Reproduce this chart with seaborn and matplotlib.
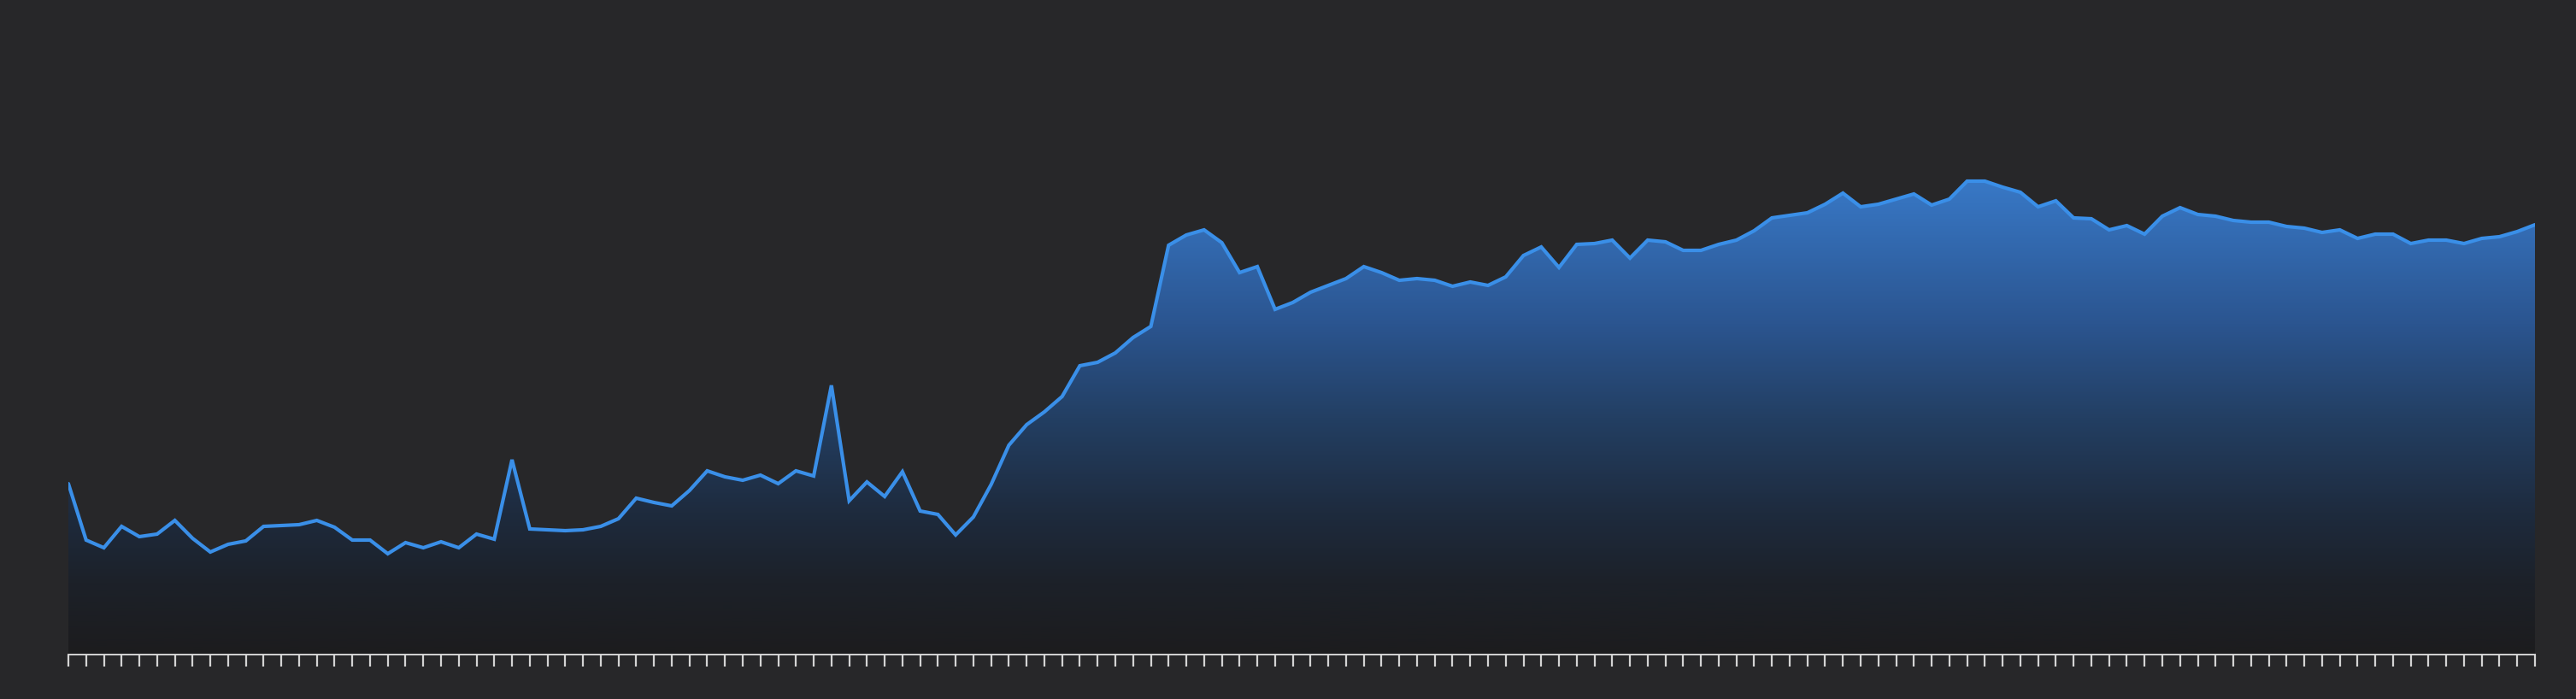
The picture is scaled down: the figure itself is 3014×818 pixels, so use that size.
import numpy as np
import pandas as pd
import seaborn as sns
import matplotlib.pyplot as plt
from matplotlib.colors import LinearSegmentedColormap

# значения ряда (140 точек, одна на каждое деление оси)
values = [
    200, 134, 125, 150, 138, 141, 157, 136, 120, 129,
    133, 150, 151, 152, 157, 149, 134, 134, 118, 131,
    125, 132, 125, 141, 135, 228, 147, 146, 145, 146,
    150, 159, 183, 178, 174, 192, 215, 208, 204, 210,
    200, 215, 209, 315, 180, 202, 185, 214, 168, 164,
    140, 161, 199, 245, 269, 284, 302, 338, 342, 353,
    371, 384, 479, 491, 497, 482, 447, 454, 404, 412,
    424, 432, 440, 454, 447, 438, 440, 438, 431, 436,
    432, 442, 467, 477, 453, 480, 481, 485, 464, 485,
    483, 473, 473, 480, 485, 496, 511, 514, 517, 527,
    540, 524, 527, 533, 539, 526, 533, 554, 554, 547,
    541, 524, 531, 511, 510, 497, 502, 492, 513, 523,
    515, 513, 508, 506, 506, 501, 499, 494, 497, 487,
    492, 492, 481, 485, 485, 481, 487, 489, 495, 503,
]
y_max = 766

bg = "#272729"
line_color = "#3a8fe8"
tick_color = "#d4d4d4"
grad_stops = [
    (0.0, "#1c1c1e"),
    (0.15, "#1c2129"),
    (0.3, "#1e2b3e"),
    (0.5, "#233f63"),
    (0.7, "#2b5590"),
    (1.0, "#3878c6"),
]

df = pd.DataFrame({"x": np.arange(len(values)), "y": values})

sns.set_style("dark")
fig = plt.figure(figsize=(30.14, 8.18), dpi=100, facecolor=bg)
ax = fig.add_axes([80 / 3014, 52 / 818, 2886 / 3014, 766 / 818])
ax.set_facecolor(bg)

# градиентная заливка под линией
fill = ax.fill_between(df["x"], df["y"], 0, color="none", lw=0)
cmap = LinearSegmentedColormap.from_list("grad", grad_stops)
grad = np.linspace(0, 1, 256).reshape(-1, 1)
img = ax.imshow(grad, cmap=cmap, origin="lower", aspect="auto",
                extent=[0, len(values) - 1, 0, df["y"].max()], zorder=1)
img.set_clip_path(fill.get_paths()[0], transform=ax.transData)

sns.lineplot(data=df, x="x", y="y", ax=ax, color=line_color, linewidth=3.0,
             solid_joinstyle="miter", zorder=3)

ax.set_xlim(0, len(values) - 1)
ax.set_ylim(0, y_max)
ax.set_xticks(df["x"])
ax.set_xticklabels([])
ax.set_yticks([])
ax.set_xlabel("")
ax.set_ylabel("")
ax.grid(False)
ax.tick_params(axis="x", direction="out", length=10, width=1.6,
               color=tick_color, bottom=True)
for side in ["top", "right", "left"]:
    ax.spines[side].set_visible(False)
ax.spines["bottom"].set_color(tick_color)
ax.spines["bottom"].set_linewidth(1.4)

fig.savefig("out.png", dpi=100, facecolor=bg)
